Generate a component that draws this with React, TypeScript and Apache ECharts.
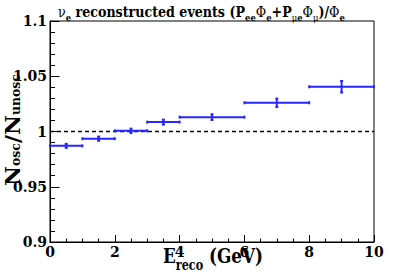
import React, { useEffect, useRef } from "react";
import * as echarts from "echarts";

const binLow = [0, 1, 2, 3, 4, 6, 8];
const binHigh = [1, 2, 3, 4, 6, 8, 10];
const ratio = [0.987, 0.9935, 1.0006, 1.0085, 1.013, 1.026, 1.0405];
const ratioErr = [0.0018, 0.0019, 0.002, 0.0022, 0.0026, 0.0038, 0.0052];
const xTicks = [0, 2, 4, 6, 8, 10];
const yTicks = [0.9, 0.95, 1, 1.05, 1.1];
const refLine = 1;

const SERIF = "DejaVu Serif";
const BLUE = "#2626ff";

type Tok = { t: string; size: number; weight: string };

function measure(tokens: Tok[]): number {
  const c = document.createElement("canvas").getContext("2d");
  if (!c) return 1;
  let w = 0;
  for (const tk of tokens) {
    c.font = `${tk.weight} ${tk.size}px ${SERIF}`;
    w += c.measureText(tk.t).width;
  }
  return w;
}

export default function App() {
  const ref = useRef<HTMLDivElement>(null);
  useEffect(() => {
    if (!ref.current) return;
    const chart = echarts.init(ref.current, undefined, { renderer: "svg" });
    const data = binLow.map((lo, i) => [lo, binHigh[i], ratio[i], ratioErr[i]]);
    const mainTok = (size: number, weight: string = "bold") => ({
      fontSize: size,
      fontFamily: SERIF,
      fontWeight: weight,
      lineHeight: size,
      verticalAlign: "top",
      color: "#000",
    });
    const subTok = (size: number, pad: number, weight: string = "bold") => ({
      fontSize: size,
      fontFamily: SERIF,
      fontWeight: weight,
      lineHeight: size,
      verticalAlign: "top",
      padding: [pad, 0, 0, 0],
      color: "#000",
    });

    // title
    const TM = 15, TS = 10;
    const titleTokens: Tok[] = [
      { t: "ν", size: TM, weight: "normal" },
      { t: "e", size: TS, weight: "bold" },
      { t: " reconstructed events (P", size: TM, weight: "bold" },
      { t: "ee", size: TS, weight: "bold" },
      { t: "Φ", size: TM, weight: "normal" },
      { t: "e", size: TS, weight: "bold" },
      { t: "+P", size: TM, weight: "bold" },
      { t: "μ", size: TS, weight: "normal" },
      { t: "e", size: TS, weight: "bold" },
      { t: "Φ", size: TM, weight: "normal" },
      { t: "μ", size: TS, weight: "normal" },
      { t: ")/", size: TM, weight: "bold" },
      { t: "Φ", size: TM, weight: "normal" },
      { t: "e", size: TS, weight: "bold" },
    ];
    const titleScale = 287 / measure(titleTokens);

    const AM = 21, AS = 14, YS = 12;
    const xTitleScale =
      100 /
      measure([
        { t: "E", size: AM, weight: "bold" },
        { t: "reco", size: AS, weight: "bold" },
        { t: " (GeV)", size: AM, weight: "bold" },
      ]);
    const yTitleScale =
      112 /
      measure([
        { t: "N", size: AM, weight: "bold" },
        { t: "osc", size: YS, weight: "bold" },
        { t: "/N", size: AM, weight: "bold" },
        { t: "unosc", size: YS, weight: "bold" },
      ]);

    chart.setOption({
      animation: false,
      textStyle: { fontFamily: SERIF },
      grid: {
        left: 50,
        right: 33,
        top: 21,
        bottom: 37,
        show: true,
        borderColor: "#000",
        borderWidth: 1,
        backgroundColor: "transparent",
        outerBoundsMode: "none",
        containLabel: false,
      },
      xAxis: {
        type: "value",
        min: xTicks[0],
        max: xTicks[xTicks.length - 1],
        interval: xTicks[1] - xTicks[0],
        axisLine: { lineStyle: { color: "#000", width: 1 } },
        axisTick: { inside: true, length: 7, lineStyle: { color: "#000" } },
        minorTick: { show: true, splitNumber: 4, length: 3.5, lineStyle: { color: "#000" } },
        splitLine: { show: false },
        axisLabel: {
          color: "#000",
          fontFamily: SERIF,
          fontWeight: "bold",
          fontSize: 14,
          margin: 3,
        },
      },
      yAxis: {
        type: "value",
        min: yTicks[0],
        max: yTicks[yTicks.length - 1],
        interval: 0.05,
        axisLine: { show: true, lineStyle: { color: "#000", width: 1 } },
        axisTick: { show: true, inside: true, length: 9.5, lineStyle: { color: "#000" } },
        minorTick: { show: true, splitNumber: 5, length: 5, lineStyle: { color: "#000" } },
        splitLine: { show: false },
        axisLabel: {
          color: "#000",
          fontFamily: SERIF,
          fontWeight: "bold",
          fontSize: 14,
          margin: 3,
          formatter: (v: number) => String(parseFloat(v.toFixed(2))),
        },
      },
      graphic: [
        {
          type: "text",
          x: 58,
          y: 4,
          scaleX: titleScale,
          style: {
            text:
              "{g|ν}{s|e}{m| reconstructed events (P}{s|ee}{g|Φ}{s|e}{m|+P}{sg|μ}{s|e}{g|Φ}{sg|μ}{m|)/}{g|Φ}{s|e}",
            align: "left",
            verticalAlign: "top",
            rich: {
              m: mainTok(TM),
              g: mainTok(TM, "normal"),
              s: subTok(TS, 8),
              sg: subTok(TS, 8, "normal"),
            },
          },
        },
        {
          type: "text",
          x: 213,
          y: 245,
          scaleX: xTitleScale,
          style: {
            text: "{m|E}{s|reco}{m| (GeV)}",
            align: "center",
            verticalAlign: "top",
            rich: { m: mainTok(AM), s: subTok(AS, 13) },
          },
        },
        {
          type: "text",
          x: 2,
          y: 130,
          rotation: Math.PI / 2,
          scaleX: yTitleScale,
          style: {
            text: "{m|N}{s|osc}{m|/N}{s|unosc}",
            align: "center",
            verticalAlign: "top",
            rich: { m: mainTok(AM), s: subTok(YS, 8) },
          },
        },
      ],
      series: [
        {
          type: "line",
          data: [
            [xTicks[0], refLine],
            [xTicks[xTicks.length - 1], refLine],
          ],
          symbol: "none",
          lineStyle: { color: "#000", width: 1.5, type: [4, 3] },
          silent: true,
          z: 1,
        },
        {
          type: "custom",
          data,
          z: 3,
          renderItem: (params: any, api: any) => {
            const lo = api.value(0);
            const hi = api.value(1);
            const y = api.value(2);
            const e = api.value(3);
            const mid = (lo + hi) / 2;
            const p1 = api.coord([lo, y]);
            const p2 = api.coord([hi, y]);
            const pt = api.coord([mid, y + e]);
            const pb = api.coord([mid, y - e]);
            const style = { stroke: BLUE, lineWidth: 2 };
            const cap = 1.5;
            return {
              type: "group",
              children: [
                { type: "line", shape: { x1: p1[0], y1: p1[1], x2: p2[0], y2: p2[1] }, style },
                { type: "line", shape: { x1: pt[0], y1: pt[1], x2: pb[0], y2: pb[1] }, style },
                { type: "line", shape: { x1: p1[0], y1: p1[1] - cap, x2: p1[0], y2: p1[1] + cap }, style },
                { type: "line", shape: { x1: p2[0], y1: p2[1] - cap, x2: p2[0], y2: p2[1] + cap }, style },
                { type: "line", shape: { x1: pt[0] - cap, y1: pt[1], x2: pt[0] + cap, y2: pt[1] }, style },
                { type: "line", shape: { x1: pb[0] - cap, y1: pb[1], x2: pb[0] + cap, y2: pb[1] }, style },
              ],
            };
          },
        },
      ],
    });
    return () => chart.dispose();
  }, []);
  return <div ref={ref} style={{ width: 407, height: 279, position: "absolute", left: 0, top: 0 }} />;
}
